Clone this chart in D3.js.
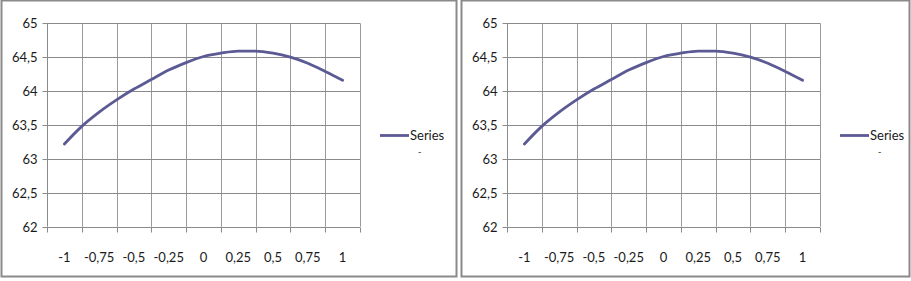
<!DOCTYPE html>
<html>
<head>
<meta charset="utf-8">
<script src="https://cdn.jsdelivr.net/npm/d3@7"></script>
<style>
  html, body { margin: 0; padding: 0; background: #fff; }
  svg { display: block; }
  text { font-family: Lato, "Open Sans", sans-serif; fill: #1a1a1a; }
</style>
</head>
<body>
<svg id="chart" width="911" height="281"></svg>
<script>
// Category labels shown on the x axis
const categories = [-1, -0.75, -0.5, -0.25, 0, 0.25, 0.5, 0.75, 1];
const categoryLabels = ["-1", "-0,75", "-0,5", "-0,25", "0", "0,25", "0,5", "0,75", "1"];
// Series sampled along x
const seriesX = [-1, -0.875, -0.75, -0.625, -0.5, -0.375, -0.25, -0.125, 0,
                 0.125, 0.25, 0.375, 0.5, 0.625, 0.75, 0.875, 1];
const seriesY = [63.22, 63.48, 63.69, 63.87, 64.03, 64.17, 64.31, 64.42, 64.51,
                 64.56, 64.59, 64.59, 64.56, 64.50, 64.41, 64.29, 64.16];
const yTicks = [62, 62.5, 63, 63.5, 64, 64.5, 65];
const yTickLabels = ["62", "62,5", "63", "63,5", "64", "64,5", "65"];
const seriesName = "Series";

const svg = d3.select("#chart");
const panels = [{x: 1, w: 455}, {x: 461, w: 448}];

panels.forEach(p => {
  const g = svg.append("g").attr("transform", `translate(${p.x},0)`);
  g.append("rect").attr("x", 0.5).attr("y", 0.5).attr("width", p.w).attr("height", 276)
    .attr("fill", "#fff").attr("stroke", "#8a8a8a").attr("stroke-width", 2);

  const left = 46, right = 359, top = 23.3, bottom = 226.7;
  const x = d3.scaleLinear().domain([-1.125, 1.125]).range([left, right]);
  const y = d3.scaleLinear().domain([62, 65]).range([bottom, top]);

  // boundaries between categories
  const bounds = d3.range(categories.length + 1).map(i => -1.125 + 0.25 * i);

  // vertical gridlines
  g.append("g").selectAll("line").data(bounds.slice(1)).join("line")
    .attr("x1", d => Math.round(x(d)) + 0.5).attr("x2", d => Math.round(x(d)) + 0.5)
    .attr("y1", top).attr("y2", bottom)
    .attr("stroke", "#9a9a9a").attr("stroke-width", 1);

  // horizontal gridlines
  g.append("g").selectAll("line").data(yTicks).join("line")
    .attr("x1", left).attr("x2", right)
    .attr("y1", d => Math.round(y(d)) + 0.5).attr("y2", d => Math.round(y(d)) + 0.5)
    .attr("stroke", "#8a8a8a").attr("stroke-width", 1);

  // y axis
  const yAxis = d3.axisLeft(y).tickValues(yTicks)
    .tickFormat((d, i) => yTickLabels[i]).tickSize(5).tickPadding(5);
  const ya = g.append("g").attr("transform", `translate(${Math.round(left) + 0.5},0)`).call(yAxis);
  ya.select(".domain").attr("stroke", "#8a8a8a").attr("d", `M0,${top}V${bottom}`);
  ya.selectAll(".tick line").attr("stroke", "#8a8a8a");
  ya.selectAll(".tick").attr("transform", d => `translate(0,${Math.round(y(d)) + 0.5})`);
  ya.selectAll("text").style("font-family", "Lato, sans-serif").style("font-size", "13px").attr("fill", "#1a1a1a");

  // x axis: tick marks at category boundaries, labels centred in categories
  const xa = g.append("g").attr("transform", `translate(0,${Math.round(bottom) + 0.5})`);
  xa.append("line").attr("x1", left).attr("x2", right).attr("stroke", "#8a8a8a");
  xa.selectAll("line.tk").data(bounds).join("line").attr("class", "tk")
    .attr("x1", d => Math.round(x(d)) + 0.5).attr("x2", d => Math.round(x(d)) + 0.5)
    .attr("y1", 0).attr("y2", 5).attr("stroke", "#8a8a8a");
  xa.selectAll("text").data(categories).join("text")
    .attr("x", d => x(d)).attr("y", 34)
    .attr("text-anchor", "middle").style("font-size", "13px")
    .text((d, i) => categoryLabels[i]);

  // series line
  const line = d3.line().x((d, i) => x(seriesX[i])).y(d => y(d)).curve(d3.curveMonotoneX);
  g.append("path").datum(seriesY).attr("d", line)
    .attr("fill", "none").attr("stroke", "#5c5a94").attr("stroke-width", 2.8)
    .attr("stroke-linejoin", "round").attr("stroke-linecap", "round");

  // legend
  const lg = g.append("g").attr("transform", "translate(379,135.5)");
  lg.append("line").attr("x1", 0).attr("x2", 29).attr("stroke", "#5c5a94").attr("stroke-width", 2.8);
  lg.append("text").attr("x", 30).attr("y", 4.5).style("font-size", "13px").text(seriesName);
  lg.append("text").attr("x", 38).attr("y", 19).style("font-size", "9px").text("-");
});
</script>
</body>
</html>
